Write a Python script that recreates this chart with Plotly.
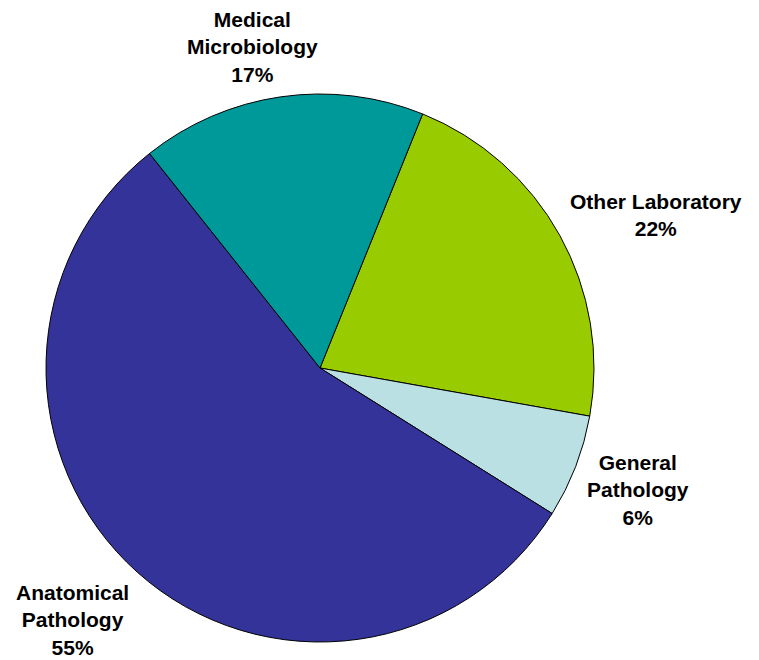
import plotly.graph_objs as go

# pathology workforce share by discipline (clockwise from Other Laboratory)
labels = ['Other Laboratory', 'General Pathology', 'Anatomical Pathology', 'Medical Microbiology']
label_text = ['Other Laboratory', 'General<br>Pathology', 'Anatomical<br>Pathology', 'Medical<br>Microbiology']
values = [21.7, 6.1, 55.4, 16.8]
colors = ['#99CC00', '#BBE0E3', '#333399', '#009999']

# label anchor spots in paper coords (x, y)
label_pos = [(1.114, 0.779), (1.080, 0.277), (0.049, 0.040), (0.376, 1.086)]

trace = go.Pie(
    labels=labels,
    values=values,
    sort=False,
    direction='clockwise',
    rotation=22,
    marker=dict(colors=colors, line=dict(color='black', width=1)),
    textinfo='none',
    showlegend=False,
    hoverinfo='label+percent',
)

total = sum(values)
annotations = []
for txt, v, (ax, ay) in zip(label_text, values, label_pos):
    annotations.append(dict(
        x=ax, y=ay, xref='paper', yref='paper',
        text='%s<br>%d%%' % (txt, round(100.0 * v / total)),
        showarrow=False, xanchor='center', yanchor='middle', align='center',
        font=dict(family='Liberation Sans, Arial', size=21, color='black', weight='bold'),
    ))

layout = go.Layout(
    width=759,
    height=660,
    margin=dict(l=38, r=173, t=86, b=26),
    paper_bgcolor='white',
    plot_bgcolor='white',
    annotations=annotations,
)

fig = go.Figure(data=[trace], layout=layout)
fig.write_html('out.html')
